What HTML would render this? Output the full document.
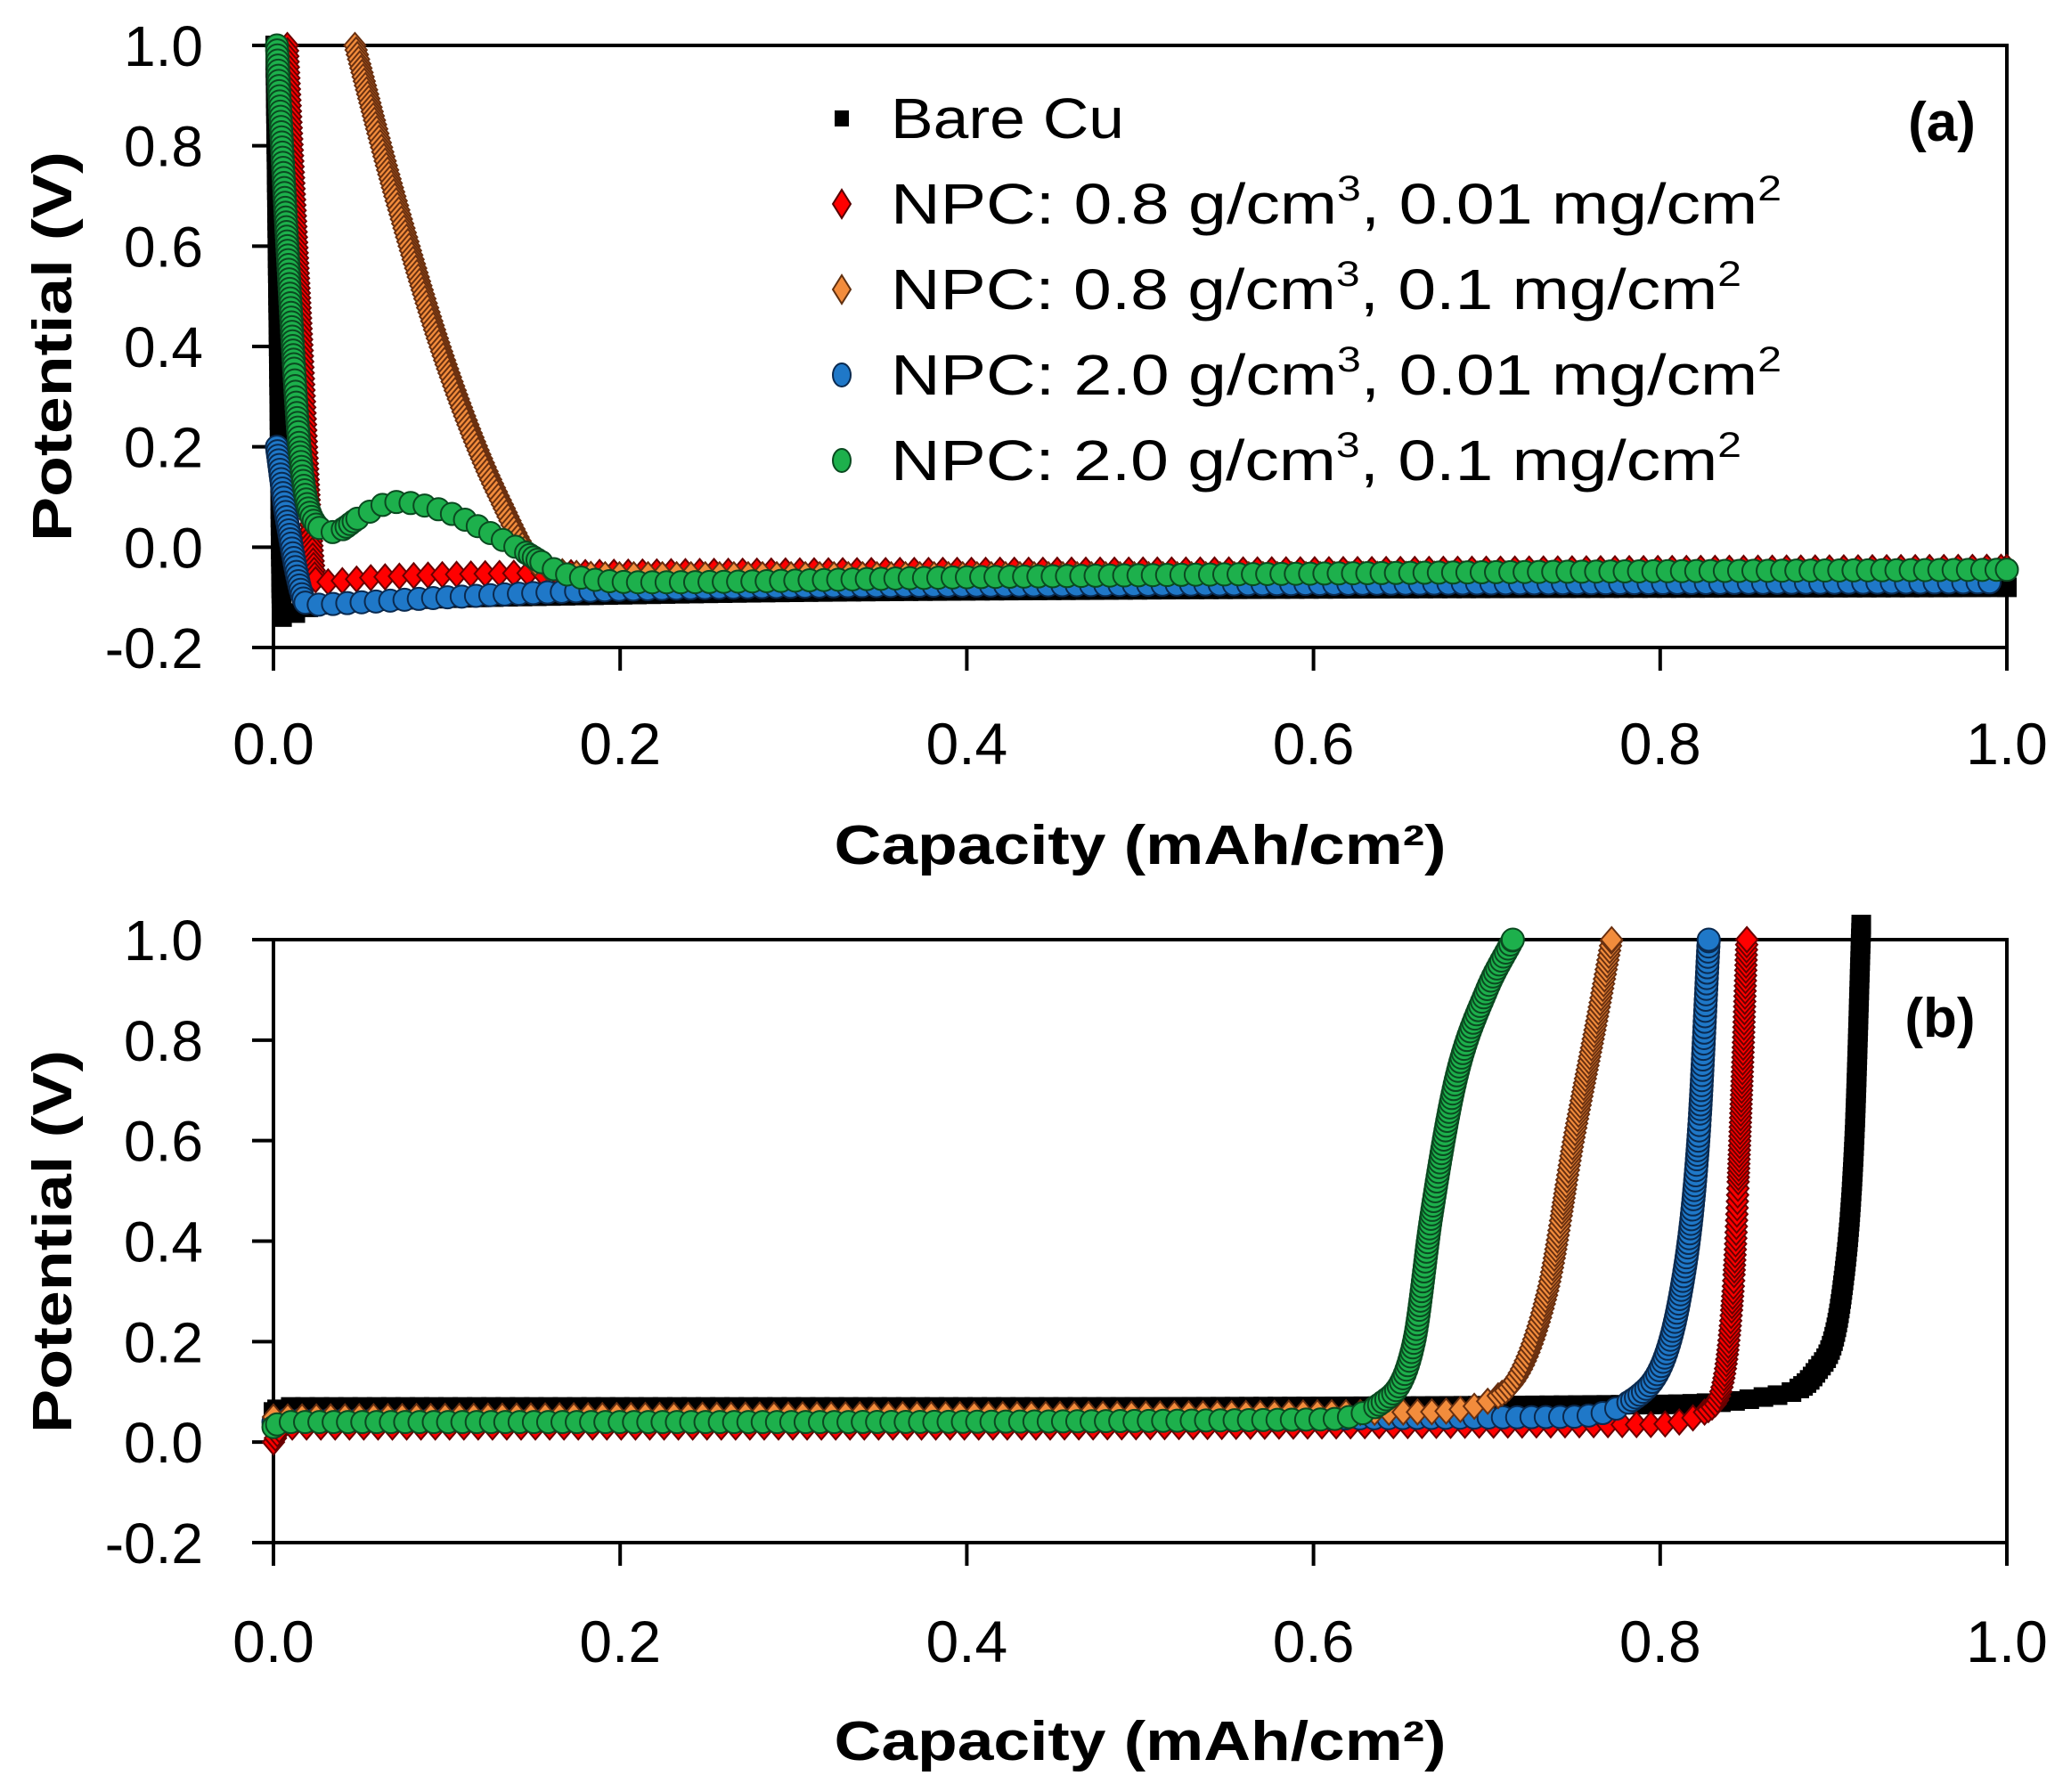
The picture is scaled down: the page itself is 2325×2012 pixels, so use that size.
<!DOCTYPE html>
<html><head><meta charset="utf-8">
<style>
html,body{margin:0;padding:0;background:#fff;}
svg{display:block;}
text{font-family:"Liberation Sans",sans-serif;fill:#000;}
</style></head>
<body>
<svg id="s" width="2325" height="2012" viewBox="0 0 2325 2012" xmlns="http://www.w3.org/2000/svg">
<g id="g"></g>
<g font-size="64">
<rect x="937" y="124" width="16" height="18" fill="#000"/>
<text x="1000" y="155" textLength="262" lengthAdjust="spacingAndGlyphs">Bare Cu</text>
<polygon points="945,213 955,229 945,245 935,229" fill="#f00" stroke="#500" stroke-width="2"/>
<text x="1000" y="251" textLength="1000" lengthAdjust="spacingAndGlyphs">NPC: 0.8 g/cm<tspan font-size="40" dy="-26">3</tspan><tspan dy="26">, 0.01 mg/cm</tspan><tspan font-size="40" dy="-26">2</tspan></text>
<polygon points="945,309 955,325 945,341 935,325" fill="#f28c3c" stroke="#603010" stroke-width="2"/>
<text x="1000" y="347" textLength="955" lengthAdjust="spacingAndGlyphs">NPC: 0.8 g/cm<tspan font-size="40" dy="-26">3</tspan><tspan dy="26">, 0.1 mg/cm</tspan><tspan font-size="40" dy="-26">2</tspan></text>
<ellipse cx="945" cy="421" rx="10" ry="13" fill="#1f78c8" stroke="#0a2a50" stroke-width="2"/>
<text x="1000" y="443" textLength="1000" lengthAdjust="spacingAndGlyphs">NPC: 2.0 g/cm<tspan font-size="40" dy="-26">3</tspan><tspan dy="26">, 0.01 mg/cm</tspan><tspan font-size="40" dy="-26">2</tspan></text>
<ellipse cx="945" cy="517" rx="10" ry="13" fill="#1db04c" stroke="#0a4a20" stroke-width="2"/>
<text x="1000" y="539" textLength="955" lengthAdjust="spacingAndGlyphs">NPC: 2.0 g/cm<tspan font-size="40" dy="-26">3</tspan><tspan dy="26">, 0.1 mg/cm</tspan><tspan font-size="40" dy="-26">2</tspan></text>
</g>
<text x="2180" y="158" font-size="62" font-weight="bold" text-anchor="middle">(a)</text>
<text x="2178" y="1164" font-size="62" font-weight="bold" text-anchor="middle">(b)</text>
<text x="1280" y="970" font-size="62" font-weight="bold" text-anchor="middle" textLength="687" lengthAdjust="spacingAndGlyphs">Capacity (mAh/cm²)</text>
<text x="1280" y="1976" font-size="62" font-weight="bold" text-anchor="middle" textLength="687" lengthAdjust="spacingAndGlyphs">Capacity (mAh/cm²)</text>
<text transform="translate(80,389) rotate(-90)" font-size="62" font-weight="bold" text-anchor="middle" textLength="438" lengthAdjust="spacingAndGlyphs">Potential (V)</text>
<text transform="translate(80,1394) rotate(-90)" font-size="62" font-weight="bold" text-anchor="middle" textLength="430" lengthAdjust="spacingAndGlyphs">Potential (V)</text>
</svg>
<script>
var NS="http://www.w3.org/2000/svg",G=document.getElementById("g");
function el(t,a){var e=document.createElementNS(NS,t);for(var k in a)e.setAttribute(k,a[k]);G.appendChild(e);return e;}
var X0=307,X1=2253;
function axes(top,bot,labelY){
 var st=(bot-top)/6;
 el("rect",{x:X0,y:top,width:X1-X0,height:bot-top,fill:"none",stroke:"#000","stroke-width":4});
 for(var i=0;i<=6;i++){var y=top+i*st;el("line",{x1:283,x2:X0,y1:y,y2:y,stroke:"#000","stroke-width":4});
  var t=el("text",{x:228,y:y+23,"font-size":64,"text-anchor":"end"});t.textContent=(1-0.2*i).toFixed(1);}
 for(var j=0;j<=5;j++){var x=X0+j*(X1-X0)/5;el("line",{x1:x,x2:x,y1:bot,y2:bot+26,stroke:"#000","stroke-width":4});
  var t2=el("text",{x:x,y:labelY,"font-size":66,"text-anchor":"middle"});t2.textContent=(0.2*j).toFixed(1);}
}
var S={
 k:{f:"#000",s:"#000",m:"sq"},
 r:{f:"#f00",s:"#6a0000",m:"di"},
 o:{f:"#f28c3c",s:"#6a3010",m:"di"},
 b:{f:"#1f78c8",s:"#0a2a50",m:"ci"},
 g:{f:"#1db04c",s:"#0a4a20",m:"ci"}
};
function marker(st,x,y){
 if(st.m=="sq")el("rect",{x:x-10,y:y-10,width:20,height:20,fill:st.f,stroke:st.s,"stroke-width":2});
 else if(st.m=="di")el("polygon",{points:(x)+","+(y-14)+" "+(x+12)+","+y+" "+x+","+(y+14)+" "+(x-12)+","+y,fill:st.f,stroke:st.s,"stroke-width":2});
 else el("circle",{cx:x,cy:y,r:12.5,fill:st.f,stroke:st.s,"stroke-width":2});
}
function mono(xs,ys){ // Fritsch-Carlson
 var n=xs.length,d=[],m=[];
 for(var i=0;i<n-1;i++)d.push((ys[i+1]-ys[i])/(xs[i+1]-xs[i]));
 m[0]=d[0];m[n-1]=d[n-2];
 for(i=1;i<n-1;i++){m[i]=(d[i-1]*d[i]<=0)?0:(d[i-1]+d[i])/2;}
 for(i=0;i<n-1;i++){if(d[i]==0){m[i]=0;m[i+1]=0;continue;}var a=m[i]/d[i],b=m[i+1]/d[i],h=a*a+b*b;if(h>9){var t=3/Math.sqrt(h);m[i]=t*a*d[i];m[i+1]=t*b*d[i];}}
 return function(x){var k=0;while(k<n-2&&x>xs[k+1])k++;var h=xs[k+1]-xs[k],t=(x-xs[k])/h,t2=t*t,t3=t2*t;
  return (2*t3-3*t2+1)*ys[k]+(t3-2*t2+t)*h*m[k]+(-2*t3+3*t2)*ys[k+1]+(t3-t2)*h*m[k+1];};
}
function series(pts,st,top,bot,flat){
 var sy=(bot-top)/1.2;
 var xs=pts.map(function(p){return p[0]}),ys=pts.map(function(p){return p[1]});
 var f=mono(xs,ys);
 var D=[];
 for(var x=xs[0];x<=xs[xs.length-1]+1e-9;x+=0.00005){D.push([X0+x*(X1-X0),top+(1-f(x))*sy]);}
 var acc=0;marker(st,D[0][0],D[0][1]);
 for(var k=1;k<D.length;k++){var dx=D[k][0]-D[k-1][0],dy=D[k][1]-D[k-1][1],d=Math.hypot(dx,dy);
  acc+=d;var steep=Math.abs(dy)>Math.abs(dx)*0.6;var sp=steep?5:(flat||16);
  if(acc>=sp){marker(st,D[k][0],D[k][1]);acc=0;}}
 var L=D[D.length-1];marker(st,L[0],L[1]);
}
// Panel a
var aT=51,aB=727;
axes(aT,aB,858);
series([[0.001,1.0],[0.003,0.4],[0.005,-0.14],[0.02,-0.12],[0.05,-0.11],[0.2,-0.095],[0.5,-0.085],[1.0,-0.08]],S.k,aT,aB);
series([[0.008,1.0],[0.015,0.5],[0.025,-0.07],[0.06,-0.06],[0.2,-0.05],[0.6,-0.045],[1.0,-0.04]],S.r,aT,aB);
series([[0.047,1.0],[0.07,0.7],[0.1,0.36],[0.13,0.1],[0.155,-0.04],[0.2,-0.055],[0.5,-0.055],[0.99,-0.05]],S.o,aT,aB);
series([[0.002,0.2],[0.008,0.05],[0.02,-0.115],[0.05,-0.11],[0.1,-0.1],[0.2,-0.085],[0.5,-0.075],[0.99,-0.07]],S.b,aT,aB);
series([[0.002,1.0],[0.008,0.6],[0.015,0.2],[0.022,0.06],[0.035,0.03],[0.05,0.06],[0.07,0.09],[0.1,0.07],[0.14,0.0],[0.17,-0.055],[0.22,-0.07],[0.4,-0.06],[0.7,-0.05],[1.0,-0.045]],S.g,aT,aB);
// Panel b
var bT=1055,bB=1732;
axes(bT,bB,1866);
series([[0.0,0.06],[0.005,0.07],[0.4,0.07],[0.8,0.075],[0.86,0.09],[0.89,0.14],[0.905,0.3],[0.912,0.6],[0.916,1.03]],S.k,bT,bB);
series([[0.0,0.0],[0.005,0.03],[0.4,0.03],[0.79,0.035],[0.83,0.07],[0.842,0.3],[0.847,0.7],[0.85,1.0]],S.r,bT,bB);
series([[0.0,0.04],[0.005,0.045],[0.4,0.045],[0.74,0.05],[0.79,0.1],[0.812,0.3],[0.822,0.6],[0.828,1.0]],S.b,bT,bB);
series([[0.0,0.05],[0.4,0.055],[0.66,0.06],[0.71,0.1],[0.735,0.3],[0.75,0.6],[0.764,0.85],[0.772,1.0]],S.o,bT,bB);
series([[0.0,0.03],[0.005,0.04],[0.3,0.04],[0.6,0.045],[0.64,0.08],[0.658,0.2],[0.668,0.45],[0.682,0.72],[0.7,0.9],[0.715,1.0]],S.g,bT,bB);
</script>
</body></html>
